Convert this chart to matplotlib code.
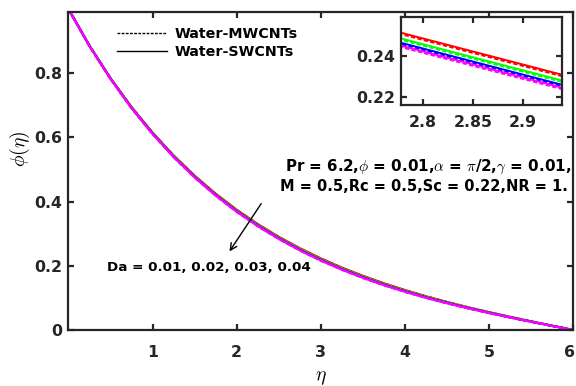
import matplotlib
matplotlib.use("Agg")
import matplotlib.pyplot as plt
import matplotlib.transforms as mtransforms
from matplotlib.lines import Line2D

plt.rcParams['font.family'] = ['DejaVu Sans']
plt.rcParams['mathtext.fontset'] = 'cm'

eta = [0.0, 0.25, 0.5, 0.75, 1.0, 1.25, 1.5, 1.75, 2.0, 2.25, 2.5, 2.75, 3.0,
       3.25, 3.5, 3.75, 4.0, 4.25, 4.5, 4.75, 5.0, 5.25, 5.5, 5.75, 6.0]

# Water-SWCNTs (solid)
sw_da001 = [1.0000, 0.8861, 0.7848, 0.6948, 0.6150, 0.5440, 0.4809, 0.4248, 0.3747, 0.3301, 0.2904, 0.2549, 0.2231,
            0.1945, 0.1688, 0.1456, 0.1245, 0.1053, 0.0875, 0.0710, 0.0557, 0.0410, 0.0270, 0.0135, 0.0]
sw_da002 = [1.0000, 0.8856, 0.7839, 0.6934, 0.6133, 0.5420, 0.4786, 0.4223, 0.3721, 0.3275, 0.2876, 0.2521, 0.2203,
            0.1918, 0.1662, 0.1431, 0.1222, 0.1033, 0.0858, 0.0697, 0.0546, 0.0402, 0.0265, 0.0132, 0.0]
sw_da003 = [1.0000, 0.8852, 0.7831, 0.6923, 0.6120, 0.5404, 0.4769, 0.4205, 0.3702, 0.3255, 0.2856, 0.2500, 0.2182,
            0.1897, 0.1642, 0.1412, 0.1205, 0.1017, 0.0845, 0.0686, 0.0537, 0.0395, 0.0261, 0.0130, 0.0]
sw_da004 = [1.0000, 0.8849, 0.7826, 0.6916, 0.6111, 0.5394, 0.4758, 0.4193, 0.3689, 0.3241, 0.2842, 0.2486, 0.2168,
            0.1884, 0.1629, 0.1400, 0.1194, 0.1007, 0.0836, 0.0679, 0.0532, 0.0391, 0.0258, 0.0128, 0.0]
# Water-MWCNTs (dashed)
mw_da001 = [1.0000, 0.8860, 0.7846, 0.6944, 0.6146, 0.5435, 0.4803, 0.4242, 0.3741, 0.3294, 0.2897, 0.2542, 0.2224,
            0.1938, 0.1681, 0.1450, 0.1239, 0.1048, 0.0871, 0.0706, 0.0554, 0.0408, 0.0269, 0.0134, 0.0]
mw_da002 = [1.0000, 0.8855, 0.7837, 0.6930, 0.6129, 0.5415, 0.4780, 0.4217, 0.3715, 0.3268, 0.2869, 0.2514, 0.2196,
            0.1911, 0.1655, 0.1425, 0.1216, 0.1028, 0.0854, 0.0693, 0.0543, 0.0400, 0.0264, 0.0131, 0.0]
mw_da003 = [1.0000, 0.8851, 0.7829, 0.6919, 0.6116, 0.5399, 0.4763, 0.4199, 0.3696, 0.3248, 0.2849, 0.2493, 0.2175,
            0.1890, 0.1635, 0.1406, 0.1199, 0.1012, 0.0841, 0.0682, 0.0534, 0.0393, 0.0260, 0.0129, 0.0]
mw_da004 = [1.0000, 0.8848, 0.7824, 0.6912, 0.6107, 0.5389, 0.4752, 0.4187, 0.3683, 0.3234, 0.2835, 0.2479, 0.2161,
            0.1877, 0.1622, 0.1394, 0.1188, 0.1002, 0.0832, 0.0675, 0.0529, 0.0389, 0.0257, 0.0127, 0.0]

sw_series = [sw_da001, sw_da002, sw_da003, sw_da004]
mw_series = [mw_da001, mw_da002, mw_da003, mw_da004]
colors = ['#ff0000', '#00ff00', '#0000ff', '#ff00ff']

main_xticks = [1, 2, 3, 4, 5, 6]
main_yticks = [0, 0.2, 0.4, 0.6, 0.8]
main_yticklabels = ['0', '0.2', '0.4', '0.6', '0.8']
inset_xticks = [2.8, 2.85, 2.9]
inset_yticks = [0.22, 0.24]

spine_c = '#262626'
TXT = 10.3

fig = plt.figure(figsize=(5.76, 3.86), dpi=100)
ax = fig.add_axes([0.1189, 0.1451, 0.8759, 0.8230])


def draw(a, lw):
    for sw, mw, c in zip(sw_series, mw_series, colors):
        a.plot(eta, sw, '-', color=c, lw=lw)
        a.plot(eta, mw, '--', color=c, lw=lw, dashes=(2.2, 1.2))


draw(ax, 1.6)
ax.set_xlim(0, 6)
ax.set_ylim(0, 0.99)
ax.set_xticks(main_xticks)
ax.set_xticklabels([str(t) for t in main_xticks])
ax.set_yticks(main_yticks)
ax.set_yticklabels(main_yticklabels)


def style(a, xpad, ypad):
    for s in a.spines.values():
        s.set_linewidth(1.6)
        s.set_color(spine_c)
    a.tick_params(direction='in', top=True, right=True, length=4, width=1.6,
                  color=spine_c, labelsize=11.3)
    a.tick_params(axis='x', pad=xpad)
    a.tick_params(axis='y', pad=ypad)
    for lab in a.get_xticklabels() + a.get_yticklabels():
        lab.set_fontweight('bold')
        lab.set_color(spine_c)


style(ax, 11.0, 4.5)
# nudge the last x tick label slightly inward so it stays inside the canvas
last = ax.get_xticklabels()[-1]
last.set_transform(last.get_transform() +
                   mtransforms.ScaledTranslation(-4 / 100, 0, fig.dpi_scale_trans))

ax.set_xlabel(r'$\eta$', fontsize=14)
ax.xaxis.set_label_coords(0.5, -0.12)
ax.set_ylabel(r'$\phi(\eta)$', fontsize=14)
ax.yaxis.set_label_coords(-0.072, 0.57)

handles = [Line2D([], [], color='black', lw=1.0, ls='--', dashes=(2, 1)),
           Line2D([], [], color='black', lw=1.0, ls='-')]
leg = ax.legend(handles, ['Water-MWCNTs', 'Water-SWCNTs'], loc='upper left',
                bbox_to_anchor=(0.070, 0.994), frameon=False, handlelength=3.5,
                handletextpad=0.56, labelspacing=0.3,
                prop={'weight': 'bold', 'size': TXT})

ax.text(0.4287, 0.513, r'Pr = 6.2,$\phi$ = 0.01,$\alpha$ = $\pi$/2,$\gamma$ = 0.01,',
        transform=ax.transAxes, fontsize=10.9, fontweight='bold', va='center', ha='left')
ax.text(0.4188, 0.453, 'M = 0.5,Rc = 0.5,Sc = 0.22,NR = 1.',
        transform=ax.transAxes, fontsize=10.5, fontweight='bold', va='center', ha='left')
ax.text(0.0762, 0.198, 'Da = 0.01, 0.02, 0.03, 0.04',
        transform=ax.transAxes, fontsize=9.7, fontweight='bold', va='center', ha='left')

ax.annotate('', xy=(0.316, 0.240), xytext=(0.385, 0.405),
            xycoords='axes fraction', textcoords='axes fraction',
            arrowprops=dict(arrowstyle='->', color='black', lw=1.0, mutation_scale=12))

ins = fig.add_axes([0.696, 0.728, 0.2795, 0.228])
draw(ins, 1.4)
ins.set_xlim(2.778, 2.939)
ins.set_ylim(0.2161, 0.259)
ins.set_xticks(inset_xticks)
ins.set_xticklabels(['2.8', '2.85', '2.9'])
ins.set_yticks(inset_yticks)
ins.set_yticklabels(['0.22', '0.24'])
style(ins, 7.5, 4.0)

fig.savefig('out.png', dpi=100)
